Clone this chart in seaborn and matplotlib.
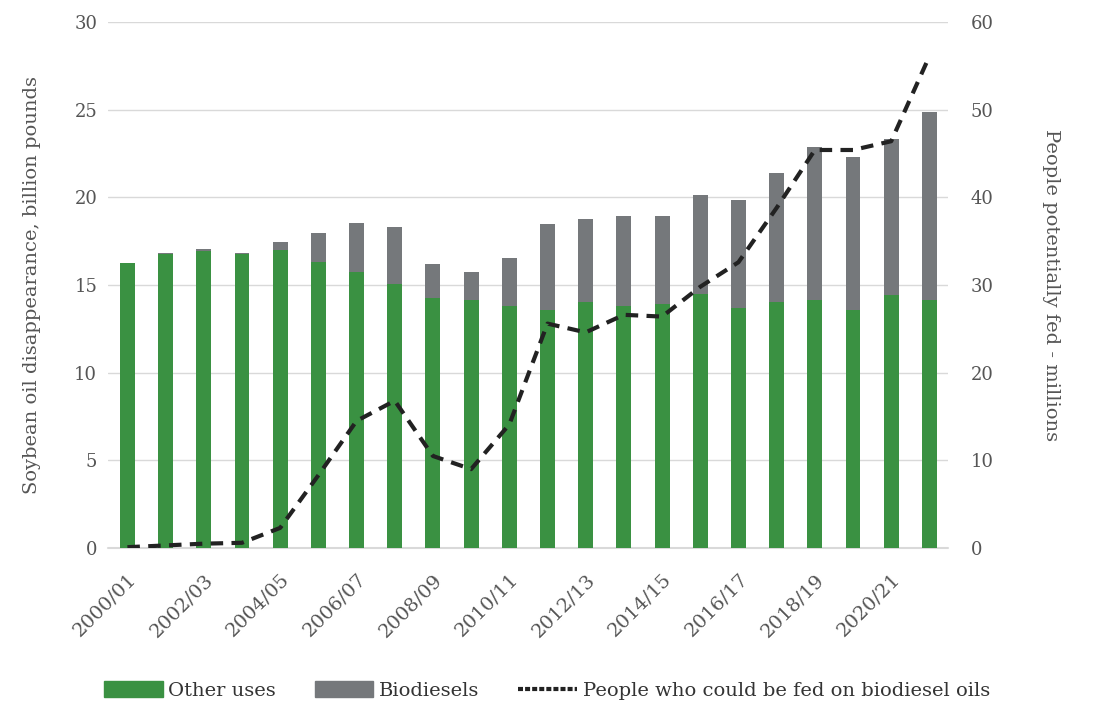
"""
Soybean oil disappearance vs. people who could be fed on biodiesel oils
"""
import numpy as np
import pandas as pd
import matplotlib
matplotlib.use("Agg")
import matplotlib.pyplot as plt
import seaborn as sns
from matplotlib.patches import Patch
from matplotlib.lines import Line2D

# Données
seasons = ["2000/01", "2001/02", "2002/03", "2003/04", "2004/05", "2005/06",
           "2006/07", "2007/08", "2008/09", "2009/10", "2010/11", "2011/12",
           "2012/13", "2013/14", "2014/15", "2015/16", "2016/17", "2017/18",
           "2018/19", "2019/20", "2020/21", "2021/22"]
other_uses = [16.28, 16.79, 16.96, 16.79, 17.0, 16.34, 15.77, 15.08, 14.27, 14.12,
              13.78, 13.59, 14.04, 13.78, 13.94, 14.51, 13.67, 14.04, 14.16, 13.59,
              14.43, 14.16]
biodiesels = [0.0, 0.02, 0.12, 0.06, 0.44, 1.61, 2.75, 3.24, 1.95, 1.65,
              2.77, 4.87, 4.75, 5.13, 4.97, 5.62, 6.2, 7.32, 8.73, 8.72,
              8.88, 10.7]
people_fed = [0.1, 0.3, 0.5, 0.6, 2.3, 8.3, 14.5, 16.8, 10.5, 9.0, 14.1, 25.6,
              24.6, 26.6, 26.4, 29.8, 32.6, 38.8, 45.4, 45.4, 46.4, 56.1]

GREEN = "#3a9142"
GREY = "#75787b"
TEXT = "#555555"
GRID = "#d9d9d9"

df = pd.DataFrame({"season": seasons, "other": other_uses, "bio": biodiesels})
df["total"] = df["other"] + df["bio"]

sns.set_theme(style="white")
plt.rcParams["font.family"] = ["DejaVu Serif"]

fig = plt.figure(figsize=(10.94, 7.09), dpi=100)
ax = fig.add_axes([0.099, 0.227, 0.768, 0.742])

# Barres empilées : total en gris, autres usages en vert par-dessus
sns.barplot(data=df, x="season", y="total", color=GREY, width=0.39,
            saturation=1, linewidth=0, ax=ax, zorder=2)
sns.barplot(data=df, x="season", y="other", color=GREEN, width=0.39,
            saturation=1, linewidth=0, ax=ax, zorder=3)

ax.set_ylim(0, 30)
ax.set_yticks(range(0, 31, 5))
ax.set_xlim(-0.5, 21.5)
ax.grid(axis="y", color=GRID, linewidth=1, zorder=0)
ax.axhline(0, color=GRID, linewidth=1.5, zorder=1, clip_on=False)
ax.set_axisbelow(True)
for s in ax.spines.values():
    s.set_visible(False)
ax.tick_params(axis="y", length=0, colors=TEXT, labelsize=13, pad=8)
ax.tick_params(axis="x", length=0, colors=TEXT, labelsize=14, pad=16)
ax.set_xticks(range(0, len(seasons), 2))
ax.set_xticklabels(seasons[::2], rotation=45, ha="right", rotation_mode="anchor")
ax.set_xlabel("")
ax.set_ylabel("Soybean oil disappearance, billion pounds", fontsize=14, color=TEXT,
              labelpad=24)

# Axe secondaire : personnes nourries
ax2 = ax.twinx()
sns.lineplot(x=np.arange(len(seasons)), y=people_fed, ax=ax2, color="#222222",
             linewidth=3, linestyle=(0, (3, 2)), zorder=4)
ax2.set_ylim(0, 60)
ax2.set_yticks(range(0, 61, 10))
for s in ax2.spines.values():
    s.set_visible(False)
ax2.tick_params(axis="y", length=0, colors=TEXT, labelsize=13, pad=16)
ax2.set_ylabel("People potentially fed - millions", fontsize=14, color=TEXT,
               rotation=270, labelpad=48)
ax2.grid(False)

handles = [Patch(color=GREEN, label="Other uses"),
           Patch(color=GREY, label="Biodiesels"),
           Line2D([0], [0], color="#222222", linewidth=3, linestyle=(0, (1.2, 0.5)),
                  label="People who could be fed on biodiesel oils")]
fig.legend(handles=handles, loc="lower center", bbox_to_anchor=(0.5, -0.012),
           ncol=3, frameon=False, fontsize=14, handlelength=3.0, handleheight=0.9,
           handletextpad=0.3, columnspacing=2.0, labelcolor="#333333")

plt.savefig("out.png", dpi=100)
plt.close()
